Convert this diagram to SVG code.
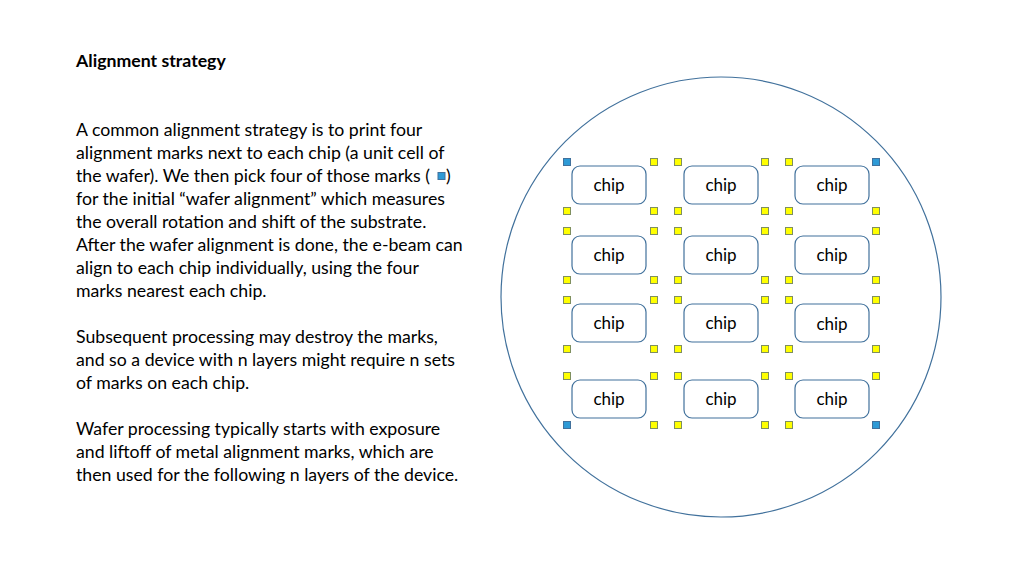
<svg xmlns="http://www.w3.org/2000/svg" width="1024" height="575" viewBox="0 0 1024 575">
<style>
text{font-family:Lato,"Liberation Sans",sans-serif;fill:#000}
.t{font-size:17.7px}
.c{font-size:17px;text-anchor:middle}
.chip{fill:#fff;stroke:#41719c;stroke-width:1.2}
.y{fill:#ffff00;stroke:#7f8f5f;stroke-width:1}
.b{fill:#2e9ad6;stroke:#41719c;stroke-width:1}
</style>
<rect width="1024" height="575" fill="#fff"/>
<text x="76" y="67" class="t" font-weight="bold">Alignment strategy</text>
<g class="t">
<text x="76" y="136" class="t">A common alignment strategy is to print four</text>
<text x="76" y="159" class="t">alignment marks next to each chip (a unit cell of</text>
<text x="76" y="182" class="t">the wafer). We then pick four of those marks (</text>
<text x="446" y="182" class="t">)</text>
<text x="76" y="205" class="t">for the initial “wafer alignment” which measures</text>
<text x="76" y="228" class="t">the overall rotation and shift of the substrate.</text>
<text x="76" y="251" class="t">After the wafer alignment is done, the e-beam can</text>
<text x="76" y="274" class="t">align to each chip individually, using the four</text>
<text x="76" y="297" class="t">marks nearest each chip.</text>
<text x="76" y="343" class="t">Subsequent processing may destroy the marks,</text>
<text x="76" y="366" class="t">and so a device with n layers might require n sets</text>
<text x="76" y="389" class="t">of marks on each chip.</text>
<text x="76" y="435" class="t">Wafer processing typically starts with exposure</text>
<text x="76" y="458" class="t">and liftoff of metal alignment marks, which are</text>
<text x="76" y="481" class="t">then used for the following n layers of the device.</text>
</g>
<rect x="438" y="172.5" width="7" height="7" class="b"/>
<ellipse cx="721" cy="297" rx="220" ry="220" fill="none" stroke="#41719c" stroke-width="1.2"/>
<g id="chips">
<g id="r1">
<rect x="572" y="166" width="74" height="38" rx="8" class="chip"/><text x="609" y="191" class="c">chip</text>
<rect x="684" y="166" width="74" height="38" rx="8" class="chip"/><text x="721" y="191" class="c">chip</text>
<rect x="795" y="166" width="74" height="38" rx="8" class="chip"/><text x="832" y="191" class="c">chip</text>
</g>
<g id="r2">
<rect x="572" y="236" width="74" height="38" rx="8" class="chip"/><text x="609" y="261" class="c">chip</text>
<rect x="684" y="236" width="74" height="38" rx="8" class="chip"/><text x="721" y="261" class="c">chip</text>
<rect x="795" y="236" width="74" height="38" rx="8" class="chip"/><text x="832" y="261" class="c">chip</text>
</g>
<g id="r3">
<rect x="572" y="304" width="74" height="38" rx="8" class="chip"/><text x="609" y="329" class="c">chip</text>
<rect x="684" y="304" width="74" height="38" rx="8" class="chip"/><text x="721" y="329" class="c">chip</text>
<rect x="795" y="304" width="74" height="38" rx="8" class="chip"/><text x="832" y="330" class="c">chip</text>
</g>
<g id="r4">
<rect x="572" y="380" width="74" height="38" rx="8" class="chip"/><text x="609" y="405" class="c">chip</text>
<rect x="684" y="380" width="74" height="38" rx="8" class="chip"/><text x="721" y="405" class="c">chip</text>
<rect x="795" y="380" width="74" height="38" rx="8" class="chip"/><text x="832" y="405" class="c">chip</text>
</g>
</g>
<g id="marks">
<rect x="563.5" y="158.5" width="7" height="7" class="b"/><rect x="650.5" y="158.5" width="7" height="7" class="y"/>
<rect x="674.5" y="158.5" width="7" height="7" class="y"/><rect x="761.5" y="158.5" width="7" height="7" class="y"/>
<rect x="785.5" y="158.5" width="7" height="7" class="y"/><rect x="872.5" y="158.5" width="7" height="7" class="b"/>
<rect x="563.5" y="207.5" width="7" height="7" class="y"/><rect x="650.5" y="207.5" width="7" height="7" class="y"/>
<rect x="674.5" y="207.5" width="7" height="7" class="y"/><rect x="761.5" y="207.5" width="7" height="7" class="y"/>
<rect x="785.5" y="207.5" width="7" height="7" class="y"/><rect x="872.5" y="207.5" width="7" height="7" class="y"/>
<rect x="563.5" y="227.5" width="7" height="7" class="y"/><rect x="650.5" y="227.5" width="7" height="7" class="y"/>
<rect x="674.5" y="227.5" width="7" height="7" class="y"/><rect x="761.5" y="227.5" width="7" height="7" class="y"/>
<rect x="785.5" y="227.5" width="7" height="7" class="y"/><rect x="872.5" y="227.5" width="7" height="7" class="y"/>
<rect x="563.5" y="276.5" width="7" height="7" class="y"/><rect x="650.5" y="276.5" width="7" height="7" class="y"/>
<rect x="674.5" y="276.5" width="7" height="7" class="y"/><rect x="761.5" y="276.5" width="7" height="7" class="y"/>
<rect x="785.5" y="276.5" width="7" height="7" class="y"/><rect x="872.5" y="276.5" width="7" height="7" class="y"/>
<rect x="563.5" y="296.5" width="7" height="7" class="y"/><rect x="650.5" y="296.5" width="7" height="7" class="y"/>
<rect x="674.5" y="296.5" width="7" height="7" class="y"/><rect x="761.5" y="296.5" width="7" height="7" class="y"/>
<rect x="785.5" y="296.5" width="7" height="7" class="y"/><rect x="872.5" y="296.5" width="7" height="7" class="y"/>
<rect x="563.5" y="345.5" width="7" height="7" class="y"/><rect x="650.5" y="345.5" width="7" height="7" class="y"/>
<rect x="674.5" y="345.5" width="7" height="7" class="y"/><rect x="761.5" y="345.5" width="7" height="7" class="y"/>
<rect x="785.5" y="345.5" width="7" height="7" class="y"/><rect x="872.5" y="345.5" width="7" height="7" class="y"/>
<rect x="563.5" y="372.5" width="7" height="7" class="y"/><rect x="650.5" y="372.5" width="7" height="7" class="y"/>
<rect x="674.5" y="372.5" width="7" height="7" class="y"/><rect x="761.5" y="372.5" width="7" height="7" class="y"/>
<rect x="785.5" y="372.5" width="7" height="7" class="y"/><rect x="872.5" y="372.5" width="7" height="7" class="y"/>
<rect x="563.5" y="421.5" width="7" height="7" class="b"/><rect x="650.5" y="421.5" width="7" height="7" class="y"/>
<rect x="674.5" y="421.5" width="7" height="7" class="y"/><rect x="761.5" y="421.5" width="7" height="7" class="y"/>
<rect x="785.5" y="421.5" width="7" height="7" class="y"/><rect x="872.5" y="421.5" width="7" height="7" class="b"/>
</g>
</svg>
